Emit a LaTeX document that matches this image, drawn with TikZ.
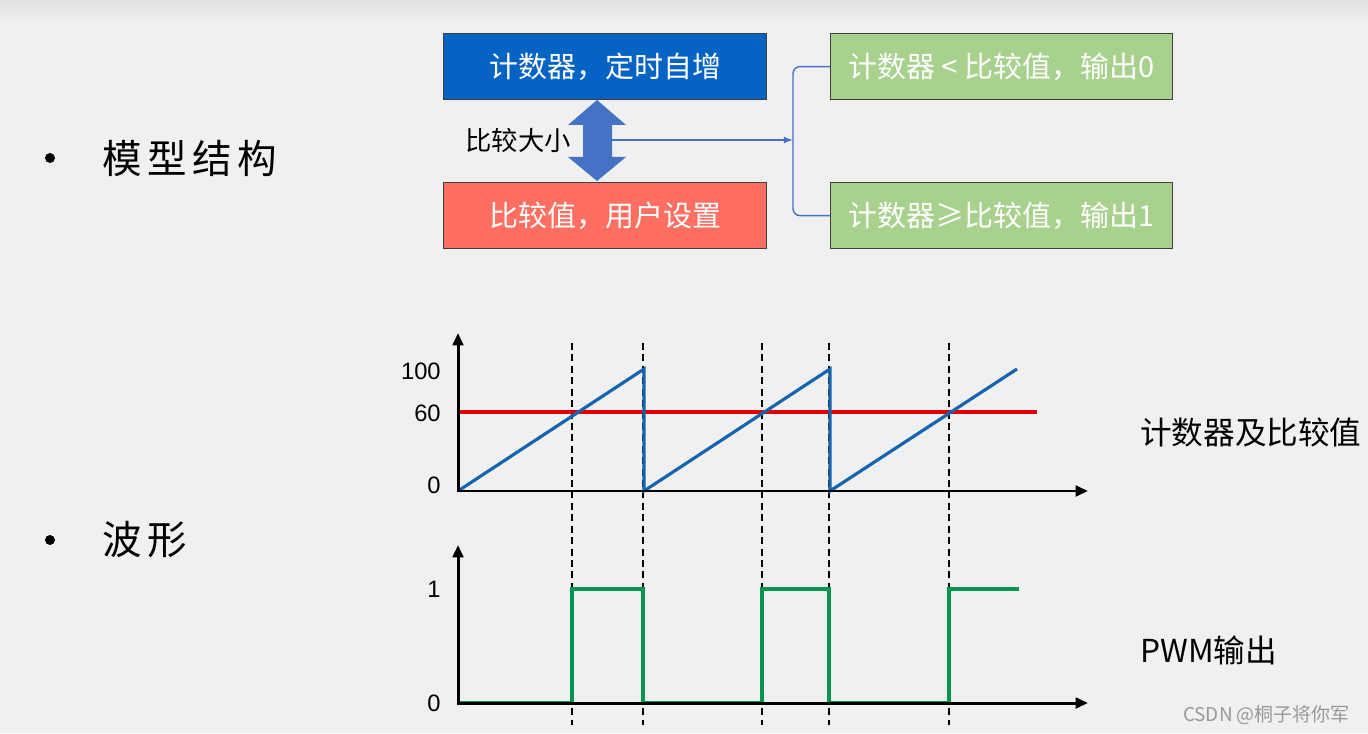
\documentclass[tikz,border=0pt]{standalone}
\usepackage{fontspec}
\setmainfont{Noto Sans CJK SC}
\newfontfamily\numfont{Liberation Sans}
\usetikzlibrary{positioning, arrows.meta}
\tikzset{>=latex}

\definecolor{slidebg}{RGB}{240,240,240}
\definecolor{cntblue}{RGB}{5,100,195}
\definecolor{cmpred}{RGB}{255,111,97}
\definecolor{outgreen}{RGB}{169,209,142}
\definecolor{arrblue}{RGB}{68,114,196}
\definecolor{sawblue}{RGB}{20,100,175}
\definecolor{limred}{RGB}{225,0,0}
\definecolor{pwmgreen}{RGB}{0,150,80}

\tikzset{
    box/.style={draw=black!75, line width=0.7pt, anchor=north west, minimum height=1.32cm,
        text=white, font=\fontsize{16.5}{19}\selectfont},
    bullet/.style={font=\fontsize{22.5}{26}\selectfont\addfontfeature{LetterSpace=14}, anchor=west},
    side/.style={font=\fontsize{18}{21}\selectfont, anchor=west},
    tick/.style={font=\numfont\fontsize{13.5}{16}\selectfont, anchor=east, inner sep=0pt},
    axis/.style={line width=1.7pt, {Triangle[length=7pt,width=6pt]}-{Triangle[length=7pt,width=6pt]}},
    guide/.style={dash pattern=on 4pt off 2.5pt, line width=1.2pt},
    conn/.style={arrblue, line width=0.8pt}
}

\begin{document}
\begin{tikzpicture}[x=0.02cm, y=-0.02cm]
    \useasboundingbox (0,0) rectangle (1368,733);
    \fill[slidebg] (0,0) rectangle (1368,733);
    \shade[top color=black!12, bottom color=slidebg] (0,0) rectangle (1368,22);

    % bullets
    \fill (50,158) circle (5);
    \node[bullet] (model) at (96,158) {模型结构};
    \fill (50,540) circle (5);
    \node[bullet] (wave) at (96,540) {波形};

    % model structure
    \node[box, fill=cntblue, minimum width=6.46cm] (cnt) at (443,33) {计数器，定时自增};
    \node[box, fill=cmpred, minimum width=6.46cm] (cmp) at (443,182) {比较值，用户设置};
    \fill[arrblue] (597,100) -- (626,125) -- (612,125) -- (612,157) -- (626,157) -- (597,181)
        -- (568,157) -- (583,157) -- (583,125) -- (568,125) -- cycle;
    \coordinate (cmpr) at (612,140);
    \node[font=\fontsize{15}{18}\selectfont] (size) at (518,140) {比较大小};

    \node[box, fill=outgreen, minimum width=6.84cm] (lt) at (830,33) {计数器 < 比较值，输出0};
    \node[box, fill=outgreen, minimum width=6.84cm] (ge) at (830,182) {计数器≥比较值，输出1};
    \coordinate (bk) at (793,140);
    \draw[conn, rounded corners=4pt] (lt.west) -| (bk) |- (ge.west);
    \draw[conn, ->] (cmpr) -- (bk);

    % dashed guides
    \foreach \x in {572,643,762,829,949}
        \draw[guide] (\x,343) -- (\x,725);

    % counter and compare value
    \coordinate (o1) at (458,491);
    \draw[limred, line width=1.8pt] (458,412) -- (1037,412);
    \draw[sawblue, line width=1.8pt] (o1) -- (644,369) -- (644,491) -- (830,369) -- (830,491) -- (1017,369);
    \draw[axis] (458,333) -- (o1) -- (1088,491);
    \node[tick] (t100) at (441,371) {100};
    \node[tick] (t60) at (441,413) {60};
    \node[tick] (t0) at (441,485) {0};
    \node[side] (cntlbl) at (1134,432) {计数器及比较值};

    % pwm output
    \coordinate (o2) at (458,703);
    \draw[pwmgreen, line width=1.8pt] (o2) -- (572,703) -- (572,589) -- (643,589) -- (643,703)
        -- (762,703) -- (762,589) -- (829,589) -- (829,703) -- (949,703) -- (949,589) -- (1019,589);
    \draw[axis] (458,545) -- (o2) -- (1088,703);
    \node[tick] (p1) at (441,589) {1};
    \node[tick] (p0) at (441,703) {0};
    \node[side] (pwmlbl) at (1134,650) {PWM输出};

    \node[anchor=east, text=black!40, font=\fontsize{10.8}{13}\selectfont] (mark) at (1356,715) {CSDN @桐子将你军};
\end{tikzpicture}
\end{document}
